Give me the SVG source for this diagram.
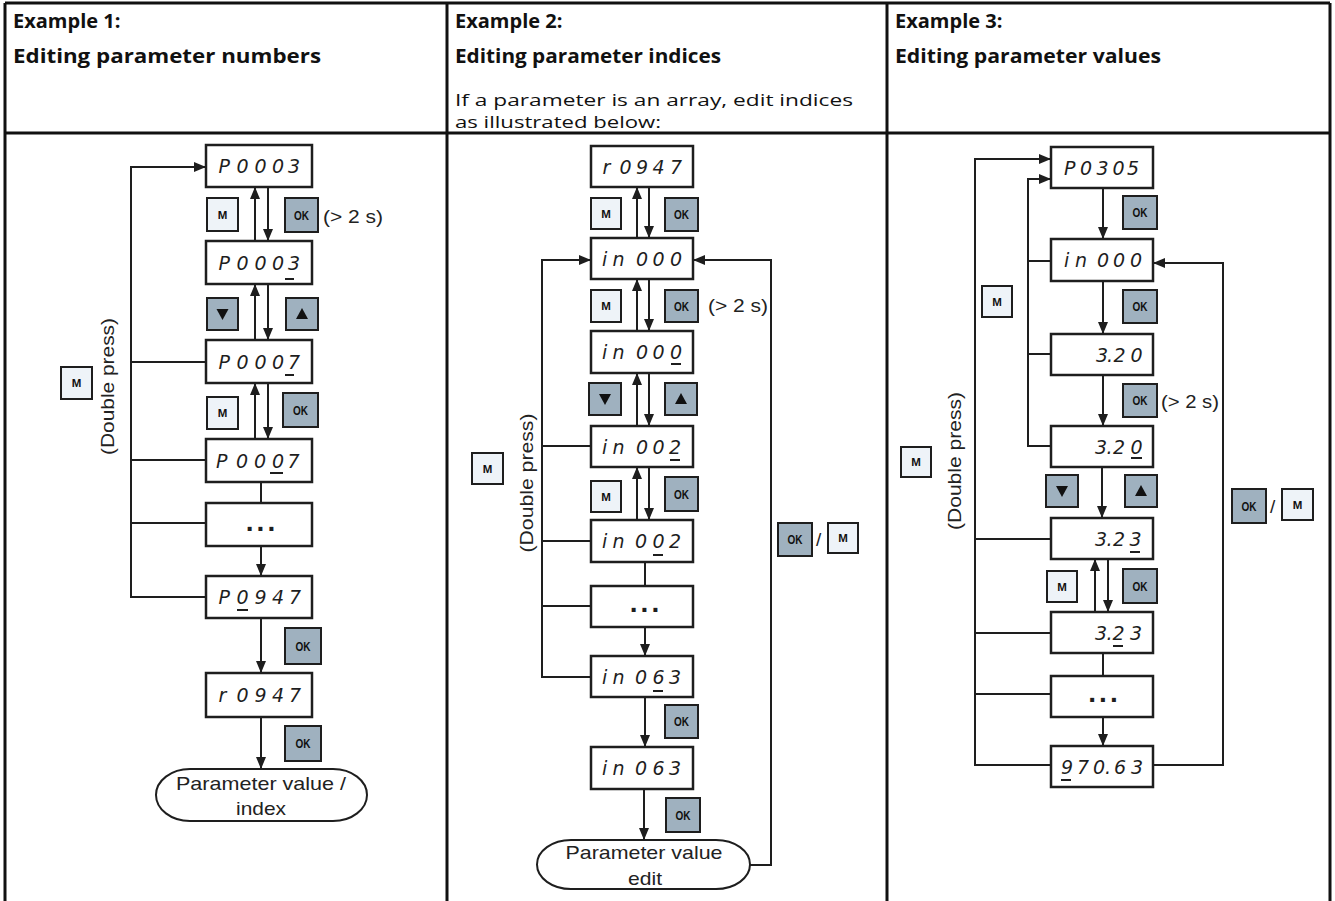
<svg xmlns="http://www.w3.org/2000/svg" width="1335" height="901" viewBox="0 0 1335 901">
<defs>
<marker id="ah" markerWidth="12" markerHeight="10" refX="11" refY="5" orient="auto" markerUnits="userSpaceOnUse"><path d="M0,0 L12,5 L0,10 Z" fill="#1e1e1e"/></marker>
<style>
.grid{stroke:#111;stroke-width:3;fill:none}
.h{font-family:"Open Sans","Noto Sans",sans-serif;font-weight:bold;font-size:20px;fill:#111}
.hn{font-family:"Open Sans","Noto Sans",sans-serif;font-size:16.5px;fill:#111}
.box{fill:#fff;stroke:#1e1e1e;stroke-width:2.5}
.term{fill:#fff;stroke:#1e1e1e;stroke-width:2}
.lcd{font-family:"DejaVu Sans","DejaVu Sans Mono",monospace;font-weight:200;font-style:italic;font-size:19px;fill:#1e1e1e}
.ul{stroke:#1e1e1e;stroke-width:2}
.dots{font-family:"Liberation Sans",Arial,sans-serif;font-weight:bold;font-size:28px;letter-spacing:3px;fill:#1e1e1e;text-anchor:middle}
.bm{fill:#eef3f8;stroke:#1e1e1e;stroke-width:2}
.bo{fill:#9fb1bf;stroke:#1e1e1e;stroke-width:2}
.tm{font-family:"Liberation Sans",Arial,sans-serif;font-weight:bold;font-size:11.5px;fill:#111;text-anchor:middle}
.to{font-family:"Liberation Sans",Arial,sans-serif;font-weight:bold;font-size:13.5px;fill:#111;text-anchor:middle}
.tri{fill:#111}
.lbl{font-family:"Liberation Sans",Arial,sans-serif;font-size:19px;fill:#222}
.mid{text-anchor:middle}
.c{stroke:#1e1e1e;stroke-width:2;fill:none}
.a{marker-end:url(#ah)}
</style>
</defs>
<rect width="1335" height="901" fill="#fff"/>

<g id="table">
<path class="grid" d="M5,3 H1330 M5,133 H1330 M5,3 V901 M447,3 V901 M887,3 V901 M1330,3 V901"/>
<text class="h" x="13" y="28">Example 1:</text>
<text class="h" x="13" y="63" textLength="308" lengthAdjust="spacingAndGlyphs">Editing parameter numbers</text>
<text class="h" x="455" y="28">Example 2:</text>
<text class="h" x="455" y="63" textLength="266" lengthAdjust="spacingAndGlyphs">Editing parameter indices</text>
<text class="hn" x="455" y="105.5" textLength="398" lengthAdjust="spacingAndGlyphs">If a parameter is an array, edit indices</text>
<text class="hn" x="455" y="127.5" textLength="206" lengthAdjust="spacingAndGlyphs">as illustrated below:</text>
<text class="h" x="895" y="28">Example 3:</text>
<text class="h" x="895" y="63" textLength="266" lengthAdjust="spacingAndGlyphs">Editing parameter values</text>
</g>

<g id="connectors">
<!-- column 1 -->
<path class="c a" d="M206,597 H131 V167 H205"/>
<line class="c" x1="131" y1="362" x2="206" y2="362"/>
<line class="c" x1="131" y1="460" x2="206" y2="460"/>
<line class="c" x1="131" y1="523" x2="206" y2="523"/>
<line class="c a" x1="255" y1="241" x2="255" y2="188"/>
<line class="c a" x1="255" y1="340" x2="255" y2="285"/>
<line class="c a" x1="255" y1="439" x2="255" y2="384"/>
<line class="c a" x1="268" y1="187" x2="268" y2="240"/>
<line class="c a" x1="268" y1="284" x2="268" y2="339"/>
<line class="c a" x1="268" y1="383" x2="268" y2="438"/>
<line class="c" x1="261" y1="482" x2="261" y2="503"/>
<line class="c a" x1="261" y1="546" x2="261" y2="575"/>
<line class="c a" x1="261" y1="618" x2="261" y2="672"/>
<line class="c a" x1="261" y1="717" x2="261" y2="768"/>
<!-- column 2 -->
<path class="c a" d="M591,677 H542 V260 H590"/>
<line class="c" x1="542" y1="446" x2="591" y2="446"/>
<line class="c" x1="542" y1="541" x2="591" y2="541"/>
<line class="c" x1="542" y1="606" x2="591" y2="606"/>
<path class="c a" d="M750,865 H771 V260 H694"/>
<line class="c a" x1="637" y1="238" x2="637" y2="188"/>
<line class="c a" x1="637" y1="331" x2="637" y2="280"/>
<line class="c a" x1="637" y1="426" x2="637" y2="374"/>
<line class="c a" x1="637" y1="520" x2="637" y2="468"/>
<line class="c a" x1="649" y1="187" x2="649" y2="237"/>
<line class="c a" x1="649" y1="279" x2="649" y2="330"/>
<line class="c a" x1="649" y1="373" x2="649" y2="425"/>
<line class="c a" x1="649" y1="467" x2="649" y2="519"/>
<line class="c" x1="645" y1="562" x2="645" y2="586"/>
<line class="c a" x1="645" y1="627" x2="645" y2="655"/>
<line class="c a" x1="645" y1="697" x2="645" y2="746"/>
<line class="c a" x1="644" y1="789" x2="644" y2="839"/>
<!-- column 3 -->
<path class="c a" d="M1051,765 H975 V159 H1050"/>
<line class="c" x1="975" y1="539" x2="1051" y2="539"/>
<line class="c" x1="975" y1="633" x2="1051" y2="633"/>
<line class="c" x1="975" y1="694" x2="1051" y2="694"/>
<path class="c a" d="M1051,446 H1028 V179 H1050"/>
<line class="c" x1="1028" y1="261" x2="1051" y2="261"/>
<line class="c" x1="1028" y1="354" x2="1051" y2="354"/>
<path class="c a" d="M1153,765 H1223 V263 H1154"/>
<line class="c a" x1="1103" y1="188" x2="1103" y2="238"/>
<line class="c a" x1="1103" y1="281" x2="1103" y2="333"/>
<line class="c a" x1="1103" y1="375" x2="1103" y2="425"/>
<line class="c a" x1="1102" y1="467" x2="1102" y2="517"/>
<line class="c a" x1="1095" y1="612" x2="1095" y2="560"/>
<line class="c a" x1="1108" y1="559" x2="1108" y2="611"/>
<line class="c" x1="1103" y1="653" x2="1103" y2="676"/>
<line class="c a" x1="1103" y1="717" x2="1103" y2="745"/>
</g>

<!-- Column 1 nodes -->
<g id="c1-p0003"><rect class="box" x="206" y="145" width="106" height="42"/><text class="lcd" x="218.5 236.5 254.5 272 288" y="173">P0003</text></g>
<g id="c1-p0003-edit"><rect class="box" x="206" y="241" width="106" height="43"/><text class="lcd" x="218.5 236.5 254.5 272 288" y="269.5">P0003</text><line class="ul" x1="285" y1="279" x2="294" y2="279"/></g>
<g id="c1-p0007-a"><rect class="box" x="206" y="340" width="106" height="43"/><text class="lcd" x="218.5 236.5 254.5 272 288" y="368.5">P0007</text><line class="ul" x1="285" y1="375" x2="294" y2="375"/></g>
<g id="c1-p0007-b"><rect class="box" x="206" y="439" width="106" height="43"/><text class="lcd" x="216 236 254 272 287.5" y="467.5">P0007</text><line class="ul" x1="270" y1="473" x2="283" y2="473"/></g>
<g id="c1-dots"><rect class="box" x="206" y="503" width="106" height="43"/><text class="dots" x="262" y="531">...</text></g>
<g id="c1-p0947"><rect class="box" x="206" y="576" width="106" height="42"/><text class="lcd" x="218.5 236.5 254.5 272 289" y="604">P0947</text><line class="ul" x1="237" y1="610" x2="248" y2="610"/></g>
<g id="c1-r0947"><rect class="box" x="206" y="673" width="106" height="44"/><text class="lcd" x="218.5 236.5 254.5 272 289" y="702">r0947</text></g>
<g id="c1-end"><rect class="term" x="156" y="769" width="211" height="52" rx="34" ry="26"/><text class="lbl mid" x="261" y="790" textLength="170" lengthAdjust="spacingAndGlyphs">Parameter value /</text><text class="lbl mid" x="261" y="815" textLength="50" lengthAdjust="spacingAndGlyphs">index</text></g>

<!-- Column 1 keys -->
<g id="c1-k-m1"><rect class="bm" x="207" y="198" width="31" height="33"/><text class="tm" x="222.5" y="218.7">M</text></g>
<g id="c1-k-ok1"><rect class="bo" x="285" y="198" width="33" height="34"/><text class="to" x="301.5" y="219.8" textLength="15" lengthAdjust="spacingAndGlyphs">OK</text></g>
<text class="lbl" x="323" y="223" textLength="60" lengthAdjust="spacingAndGlyphs">(&gt; 2 s)</text>
<g id="c1-k-dn"><rect class="bo" x="207" y="298" width="31" height="32"/><polygon class="tri" points="216.5,309 228.5,309 222.5,320"/></g>
<g id="c1-k-up"><rect class="bo" x="286" y="298" width="32" height="32"/><polygon class="tri" points="296,319 308,319 302,308"/></g>
<g id="c1-k-m2"><rect class="bm" x="207" y="397" width="31" height="32"/><text class="tm" x="222.5" y="417.2">M</text></g>
<g id="c1-k-ok2"><rect class="bo" x="283" y="393" width="35" height="34"/><text class="to" x="300.5" y="414.8" textLength="15" lengthAdjust="spacingAndGlyphs">OK</text></g>
<g id="c1-k-ok3"><rect class="bo" x="285" y="628" width="36" height="36"/><text class="to" x="303" y="650.8" textLength="15" lengthAdjust="spacingAndGlyphs">OK</text></g>
<g id="c1-k-ok4"><rect class="bo" x="285" y="726" width="36" height="35"/><text class="to" x="303" y="748.3" textLength="15" lengthAdjust="spacingAndGlyphs">OK</text></g>
<g id="c1-k-mL"><rect class="bm" x="61" y="367" width="31" height="32"/><text class="tm" x="76.5" y="387.2">M</text></g>
<text class="lbl mid" transform="translate(114,386.5) rotate(-90)" textLength="137" lengthAdjust="spacingAndGlyphs">(Double press)</text>

<!-- Column 2 nodes -->
<g id="c2-r0947"><rect class="box" x="591" y="146" width="102" height="41"/><text class="lcd" x="602.5 619.5 636 652.5 670" y="173.5">r0947</text></g>
<g id="c2-in000"><rect class="box" x="591" y="238" width="102" height="41"/><text class="lcd" x="602 612.5 636 652.5 670" y="265.5">in000</text></g>
<g id="c2-in000-edit"><rect class="box" x="591" y="331" width="102" height="42"/><text class="lcd" x="602 612.5 636 652.5 670" y="359">in000</text><line class="ul" x1="671" y1="364" x2="681" y2="364"/></g>
<g id="c2-in002-a"><rect class="box" x="591" y="426" width="102" height="41"/><text class="lcd" x="602 612.5 636 652.5 669" y="453.5">in002</text><line class="ul" x1="670" y1="460" x2="680" y2="460"/></g>
<g id="c2-in002-b"><rect class="box" x="591" y="520" width="102" height="42"/><text class="lcd" x="602 612.5 635 652.5 669" y="548">in002</text><line class="ul" x1="653" y1="555" x2="663" y2="555"/></g>
<g id="c2-dots"><rect class="box" x="591" y="586" width="102" height="41"/><text class="dots" x="646" y="612">...</text></g>
<g id="c2-in063-a"><rect class="box" x="591" y="656" width="102" height="41"/><text class="lcd" x="602 612.5 635 652.5 669" y="683.5">in063</text><line class="ul" x1="653" y1="691" x2="663" y2="691"/></g>
<g id="c2-in063-b"><rect class="box" x="591" y="747" width="102" height="42"/><text class="lcd" x="602 612.5 635 652.5 669" y="775">in063</text></g>
<g id="c2-end"><rect class="term" x="537" y="840" width="213" height="49" rx="34" ry="24.5"/><text class="lbl mid" x="644" y="859" textLength="157" lengthAdjust="spacingAndGlyphs">Parameter value</text><text class="lbl mid" x="645" y="885" textLength="34" lengthAdjust="spacingAndGlyphs">edit</text></g>

<!-- Column 2 keys -->
<g id="c2-k-m1"><rect class="bm" x="591" y="198" width="30" height="31"/><text class="tm" x="606" y="217.7">M</text></g>
<g id="c2-k-ok1"><rect class="bo" x="665" y="198" width="33" height="33"/><text class="to" x="681.5" y="219.3" textLength="15" lengthAdjust="spacingAndGlyphs">OK</text></g>
<g id="c2-k-m2"><rect class="bm" x="591" y="290" width="30" height="32"/><text class="tm" x="606" y="310.2">M</text></g>
<g id="c2-k-ok2"><rect class="bo" x="665" y="290" width="33" height="32"/><text class="to" x="681.5" y="310.8" textLength="15" lengthAdjust="spacingAndGlyphs">OK</text></g>
<text class="lbl" x="708" y="312" textLength="60" lengthAdjust="spacingAndGlyphs">(&gt; 2 s)</text>
<g id="c2-k-dn"><rect class="bo" x="589" y="383" width="32" height="32"/><polygon class="tri" points="599,394 611,394 605,405"/></g>
<g id="c2-k-up"><rect class="bo" x="665" y="383" width="32" height="32"/><polygon class="tri" points="675,404 687,404 681,393"/></g>
<g id="c2-k-m3"><rect class="bm" x="591" y="481" width="30" height="31"/><text class="tm" x="606" y="500.7">M</text></g>
<g id="c2-k-ok3"><rect class="bo" x="665" y="477" width="33" height="34"/><text class="to" x="681.5" y="498.8" textLength="15" lengthAdjust="spacingAndGlyphs">OK</text></g>
<g id="c2-k-mL"><rect class="bm" x="472" y="453" width="31" height="31"/><text class="tm" x="487.5" y="472.7">M</text></g>
<text class="lbl mid" transform="translate(533,483) rotate(-90)" textLength="139" lengthAdjust="spacingAndGlyphs">(Double press)</text>
<g id="c2-k-okR"><rect class="bo" x="778" y="523" width="34" height="33"/><text class="to" x="795" y="544.3" textLength="15" lengthAdjust="spacingAndGlyphs">OK</text></g>
<text class="lbl" x="816" y="546">/</text>
<g id="c2-k-mR"><rect class="bm" x="828" y="523" width="30" height="30"/><text class="tm" x="843" y="542.2">M</text></g>
<g id="c2-k-ok4"><rect class="bo" x="665" y="705" width="33" height="33"/><text class="to" x="681.5" y="726.3" textLength="15" lengthAdjust="spacingAndGlyphs">OK</text></g>
<g id="c2-k-ok5"><rect class="bo" x="666" y="798" width="34" height="34"/><text class="to" x="683" y="819.8" textLength="15" lengthAdjust="spacingAndGlyphs">OK</text></g>

<!-- Column 3 nodes -->
<g id="c3-p0305"><rect class="box" x="1051" y="147" width="102" height="41"/><text class="lcd" x="1064 1080 1096.5 1112.5 1127" y="174.5">P0305</text></g>
<g id="c3-in000"><rect class="box" x="1051" y="239" width="102" height="42"/><text class="lcd" x="1064 1075 1097 1113 1130" y="267">in000</text></g>
<g id="c3-v320"><rect class="box" x="1051" y="334" width="102" height="41"/><text class="lcd" x="1096 1107 1113.5 1130.5" y="361.5">3.20</text></g>
<g id="c3-v320-edit"><rect class="box" x="1051" y="426" width="102" height="41"/><text class="lcd" x="1095 1106.5 1113 1130.5" y="453.5">3.20</text><line class="ul" x1="1131" y1="458" x2="1142" y2="458"/></g>
<g id="c3-v323-a"><rect class="box" x="1051" y="518" width="102" height="41"/><text class="lcd" x="1095 1106.5 1113 1129.5" y="545.5">3.23</text><line class="ul" x1="1130" y1="552" x2="1140" y2="552"/></g>
<g id="c3-v323-b"><rect class="box" x="1051" y="612" width="102" height="41"/><text class="lcd" x="1095 1106.5 1112.5 1130" y="639.5">3.23</text><line class="ul" x1="1113" y1="646" x2="1123" y2="646"/></g>
<g id="c3-dots"><rect class="box" x="1051" y="676" width="102" height="41"/><text class="dots" x="1104.5" y="702">...</text></g>
<g id="c3-v97063"><rect class="box" x="1051" y="746" width="102" height="41"/><text class="lcd" x="1061 1077 1093 1105 1114 1131" y="773.5">970.63</text><line class="ul" x1="1061" y1="780" x2="1071" y2="780"/></g>

<!-- Column 3 keys -->
<g id="c3-k-ok1"><rect class="bo" x="1123" y="196" width="34" height="33"/><text class="to" x="1140" y="217.3" textLength="15" lengthAdjust="spacingAndGlyphs">OK</text></g>
<g id="c3-k-mL2"><rect class="bm" x="982" y="286" width="30" height="31"/><text class="tm" x="997" y="305.7">M</text></g>
<g id="c3-k-ok2"><rect class="bo" x="1123" y="290" width="34" height="33"/><text class="to" x="1140" y="311.3" textLength="15" lengthAdjust="spacingAndGlyphs">OK</text></g>
<g id="c3-k-ok3"><rect class="bo" x="1123" y="384" width="34" height="33"/><text class="to" x="1140" y="405.3" textLength="15" lengthAdjust="spacingAndGlyphs">OK</text></g>
<text class="lbl" x="1161" y="408" textLength="58" lengthAdjust="spacingAndGlyphs">(&gt; 2 s)</text>
<g id="c3-k-mL"><rect class="bm" x="901" y="447" width="30" height="30"/><text class="tm" x="916" y="466.2">M</text></g>
<text class="lbl mid" transform="translate(961,461) rotate(-90)" textLength="138" lengthAdjust="spacingAndGlyphs">(Double press)</text>
<g id="c3-k-dn"><rect class="bo" x="1046" y="475" width="32" height="32"/><polygon class="tri" points="1056,486 1068,486 1062,497"/></g>
<g id="c3-k-up"><rect class="bo" x="1125" y="475" width="32" height="32"/><polygon class="tri" points="1135,496 1147,496 1141,485"/></g>
<g id="c3-k-okR"><rect class="bo" x="1232" y="489" width="34" height="34"/><text class="to" x="1249" y="510.8" textLength="15" lengthAdjust="spacingAndGlyphs">OK</text></g>
<text class="lbl" x="1270" y="513">/</text>
<g id="c3-k-mR"><rect class="bm" x="1282" y="489" width="31" height="31"/><text class="tm" x="1297.5" y="508.7">M</text></g>
<g id="c3-k-m"><rect class="bm" x="1047" y="571" width="30" height="31"/><text class="tm" x="1062" y="590.7">M</text></g>
<g id="c3-k-ok4"><rect class="bo" x="1123" y="569" width="34" height="34"/><text class="to" x="1140" y="590.8" textLength="15" lengthAdjust="spacingAndGlyphs">OK</text></g>
</svg>
